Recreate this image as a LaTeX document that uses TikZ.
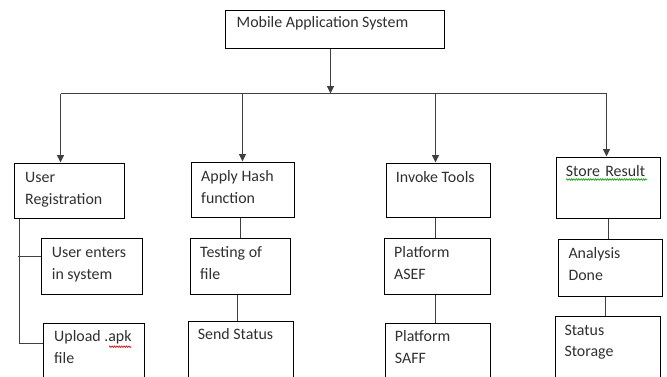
\documentclass[tikz,border=0pt]{standalone}
\usepackage{fontspec}
\setmainfont{Carlito}
\usetikzlibrary{arrows.meta,decorations.pathmorphing}
\definecolor{txt}{HTML}{303030}
\definecolor{ln}{HTML}{404040}
\tikzset{
  box/.style={draw=black, line width=1.5pt, anchor=north west, inner sep=0pt, fill=white},
  lbl/.style={anchor=base west, inner sep=0pt, text=txt, font=\fontsize{15.9}{21.6}\selectfont, align=left},
  conn/.style={draw=ln, line width=1.3pt},
  arr/.style={conn, -{Triangle[length=7.5pt,width=7pt]}},
  squig/.style={line width=0.6pt, decorate, decoration={snake, amplitude=0.8pt, segment length=2.4pt}}
}
\begin{document}
\begin{tikzpicture}[x=1pt,y=-1pt]
\useasboundingbox (0,0) rectangle (667,376);
\clip (0,0) rectangle (667,376);
\fill[white] (0,0) rectangle (667,376);

% boxes
\node[box, minimum width=219pt, minimum height=38pt] (top) at (224.5,9.5) {};
\node[box, minimum width=110pt, minimum height=55pt] (ur) at (13.5,162.5) {};
\node[box, minimum width=101pt, minimum height=56pt] (ue) at (40.5,237.5) {};
\node[box, minimum width=101pt, minimum height=80pt] (up) at (42.5,322.5) {};
\node[box, minimum width=103pt, minimum height=55pt] (ah) at (190.5,161.5) {};
\node[box, minimum width=100pt, minimum height=56pt] (tf) at (189.5,237.5) {};
\node[box, minimum width=105pt, minimum height=80pt] (ss) at (187.5,320.5) {};
\node[box, minimum width=104pt, minimum height=54pt] (it) at (385.5,162.5) {};
\node[box, minimum width=106pt, minimum height=56pt] (pa) at (383.5,237.5) {};
\node[box, minimum width=105pt, minimum height=80pt] (ps) at (384.5,322.5) {};
\node[box, minimum width=104pt, minimum height=61pt] (sr) at (555.5,156.5) {};
\node[box, minimum width=104pt, minimum height=57pt] (ad) at (557.5,238.5) {};
\node[box, minimum width=105pt, minimum height=80pt] (st) at (554.5,315.5) {};

% labels (base = baseline of the last line)
\node[lbl] (ttop) at (236.5,27.7) {Mobile Application System};
\node[lbl] (tur) at (25,204.3) {User\\Registration};
\node[lbl] (tue) at (51.7,279) {User enters\\in system};
\node[lbl] (tup) at (54,363.5) {Upload .apk\\file};
\node[lbl] (tah) at (201,203.3) {Apply Hash\\function};
\node[lbl] (ttf) at (200,279) {Testing of\\file};
\node[lbl] (tss) at (197.7,339.3) {Send Status};
\node[lbl] (tit) at (395.7,182.3) {Invoke Tools};
\node[lbl] (tpa) at (394,279.3) {Platform\\ASEF};
\node[lbl] (tps) at (394.7,363.5) {Platform\\SAFF};
\node[lbl] (tsr) at (565.7,176) {Store\,\,Result};
\node[lbl] (tad) at (568.3,280) {Analysis\\Done};
\node[lbl] (tst) at (564.3,356.7) {Status\\Storage};

% spell-check squiggles
\draw[squig, red!80!black] (109,346.7) -- (131,346.7);
\draw[squig, green!60!black] (566,179.5) -- (647,179.5);

% coordinates of the bus
\coordinate (b1) at (60.5,93.5);
\coordinate (b2) at (242.5,93.5);
\coordinate (b3) at (435.5,93.5);
\coordinate (b4) at (606.5,93.5);
\coordinate (bm) at (330.5,93.5);

% connectors
\draw[arr] (top.south -| bm) -- (bm);
\draw[conn] (b1) -- (b4);
\draw[arr] (b1) -- (b1 |- ur.north);
\draw[arr] (b2) -- (b2 |- ah.north);
\draw[arr] (b3) -- (b3 |- it.north);
\draw[arr] (b4) -- (b4 |- sr.north);

% User Registration bracket
\coordinate (k) at (19.5,0);
\draw[conn] (ur.south -| k) -- (k |- 0,343.5) -- (up.west |- 0,343.5);
\draw[conn] (17.5,256.5) -- (ue.west |- 0,256.5);

% vertical chains
\coordinate (c2) at (240.5,0);
\coordinate (c2b) at (237.5,0);
\draw[conn] (ah.south -| c2) -- (tf.north -| c2);
\draw[conn] (tf.south -| c2b) -- (ss.north -| c2b);
\coordinate (c3) at (435.5,0);
\draw[conn] (it.south -| c3) -- (pa.north -| c3);
\draw[conn] (pa.south -| c3) -- (ps.north -| c3);
\coordinate (c4) at (608.5,0);
\coordinate (c4b) at (605.5,0);
\draw[conn] (sr.south -| c4) -- (ad.north -| c4);
\draw[conn] (ad.south -| c4b) -- (st.north -| c4b);
\end{tikzpicture}
\end{document}
